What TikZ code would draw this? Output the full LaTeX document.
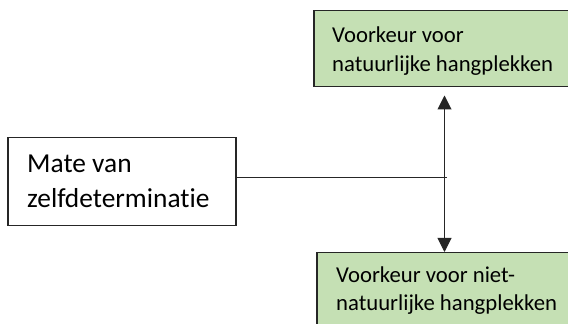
\documentclass[tikz,border=0pt]{standalone}
\usepackage{fontspec}
\setmainfont{Carlito}[Ligatures=NoCommon]
\usetikzlibrary{arrows.meta}
\definecolor{boxgreen}{HTML}{C5E0B4}
\definecolor{edge}{HTML}{262626}
\begin{document}
\begin{tikzpicture}[x=1pt,y=1pt,
  >={Triangle[length=14pt,width=14pt]},
  box/.style={draw=edge, line width=1.5pt, inner sep=0pt, anchor=north west},
  greenbox/.style={box, fill=boxgreen},
  lbl/.style={inner sep=0pt, anchor=base west, align=left, text=black},
  conn/.style={line width=1pt, edge}]
\useasboundingbox (0,0) rectangle (568,324);
\clip (0,0) rectangle (568,324);
\node[box, minimum width=228pt, minimum height=88pt] (mate) at (7,187) {};
\node[greenbox, minimum width=267pt, minimum height=76pt] (nat) at (313,314) {};
\node[greenbox, minimum width=264pt, minimum height=90pt] (niet) at (316,72) {};
\node[lbl, font=\fontsize{27.4}{35}\selectfont] (matetext) at (27,116) {Mate van\\zelfdeterminatie};
\node[lbl, font=\fontsize{22.7}{29}\selectfont] (nattext) at (332,252.3) {Voorkeur voor\\natuurlijke hangplekken};
\node[lbl, font=\fontsize{22.7}{28}\selectfont] (niettext) at (336,13) {Voorkeur voor niet-\\natuurlijke hangplekken};
\coordinate (vx) at (444.5,0);
\coordinate (join) at (447,146);
\draw[conn] (mate.east |- join) -- (join);
\draw[conn, <->] ([yshift=-8pt]nat.south -| vx) -- (niet.north -| vx);
\end{tikzpicture}
\end{document}
